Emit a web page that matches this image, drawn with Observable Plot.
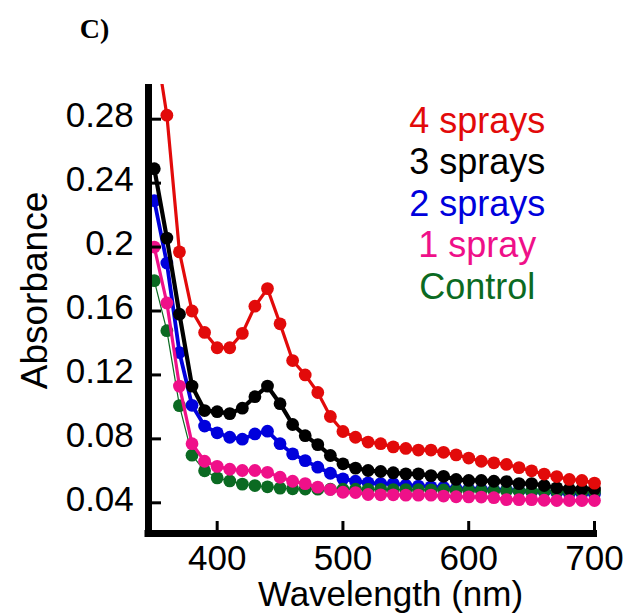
<!DOCTYPE html>
<html>
<head>
<meta charset="utf-8">
<script src="https://cdn.jsdelivr.net/npm/d3@7"></script>
<script src="https://cdn.jsdelivr.net/npm/@observablehq/plot@0.6"></script>
<style>html,body{margin:0;padding:0;background:#fff;}</style>
</head>
<body>
<div id="chart"></div>
<script>
// ---- data ----
const wavelengths = [350,360,370,380,390,400,410,420,430,440,450,460,470,480,490,500,510,520,530,540,550,560,570,580,590,600,610,620,630,640,650,660,670,680,690,700];
const spray4 = [0.333,0.2825,0.197,0.160,0.1466,0.137,0.137,0.146,0.163,0.174,0.152,0.129,0.120,0.109,0.094,0.0846,0.081,0.078,0.077,0.075,0.074,0.073,0.073,0.0716,0.070,0.068,0.066,0.065,0.064,0.062,0.060,0.058,0.0564,0.0546,0.054,0.0523];
const spray3 = [0.249,0.2056,0.158,0.113,0.0977,0.097,0.0958,0.0992,0.1064,0.113,0.102,0.089,0.082,0.0764,0.0696,0.0644,0.0617,0.0602,0.0596,0.0588,0.0581,0.0581,0.057,0.0566,0.0546,0.054,0.054,0.0535,0.0533,0.052,0.052,0.0508,0.0494,0.0487,0.0487,0.0487];
const spray2 = [0.229,0.190,0.134,0.101,0.088,0.0838,0.081,0.0798,0.0831,0.0848,0.077,0.0706,0.0664,0.0623,0.0585,0.055,0.0535,0.0525,0.052,0.052,0.051,0.0505,0.050,0.0497,0.049,0.0487,0.0485,0.048,0.048,0.0475,0.047,0.047,0.0465,0.046,0.046,0.0455];
const spray1 = [0.200,0.165,0.113,0.077,0.066,0.0628,0.061,0.0602,0.0602,0.0591,0.056,0.0535,0.052,0.0498,0.0483,0.0466,0.0464,0.0452,0.045,0.045,0.0448,0.0448,0.0448,0.0442,0.0438,0.0437,0.0436,0.0432,0.042,0.042,0.042,0.0416,0.0414,0.0414,0.0414,0.0414];
const control = [0.179,0.1477,0.1008,0.0698,0.060,0.0556,0.0537,0.0517,0.0508,0.050,0.0492,0.0488,0.0486,0.0485,0.0485,0.0485,0.0485,0.0484,0.0484,0.0483,0.0483,0.0482,0.0481,0.048,0.0479,0.0478,0.0477,0.0476,0.0475,0.0474,0.0473,0.0472,0.047,0.0469,0.0468,0.0467];

const seriesNames = ["4 sprays", "3 sprays", "2 sprays", "1 spray", "Control"];
const seriesValues = [spray4, spray3, spray2, spray1, control];
const seriesColors = ["#e20a0a", "#000000", "#0000dc", "#ef1089", "#0b6a22"];
const seriesLineWidths = [3.2, 4.2, 3.8, 3.2, 1.2];
const drawOrder = [2, 4, 1, 3, 0];

const xTicks = [400, 500, 600, 700];
const yTicks = [0.04, 0.08, 0.12, 0.16, 0.2, 0.24, 0.28];
const xDomain = [345.4, 702.4];
const yDomain = [0.0208, 0.3017];
const panelLabel = "C)";
const xLabel = "Wavelength (nm)";
const yLabel = "Absorbance";

// ---- chart ----
const rowsOf = (vals) => wavelengths.map((w, i) => ({w, a: vals[i]}));

const seriesMarks = drawOrder.flatMap((s) => {
  const rows = rowsOf(seriesValues[s]);
  return [
    Plot.line(rows, {x: "w", y: "a", stroke: seriesColors[s], strokeWidth: seriesLineWidths[s], clip: true}),
    Plot.dot(rows.filter((d) => d.a <= yDomain[1]), {x: "w", y: "a", r: 6.4, fill: seriesColors[s], stroke: null})
  ];
});

const legendMarks = seriesNames.map((name, i) =>
  Plot.text([name], {
    frameAnchor: "top-left", dx: 328.7, dy: 48.3 + i * 41.5,
    text: (d) => d, fill: seriesColors[i], fontSize: 36,
    textAnchor: "middle", lineAnchor: "bottom"
  })
);

const chart = Plot.plot({
  width: 627,
  height: 615,
  marginLeft: 148,
  marginRight: 30,
  marginTop: 84,
  marginBottom: 82,
  x: {domain: xDomain},
  y: {domain: yDomain},
  style: {fontFamily: "'Liberation Sans', Arial, sans-serif", fontSize: "35px", color: "#000", background: "#fff"},
  marks: [
    ...seriesMarks,
    Plot.axisY({ticks: yTicks, tickSize: -13, strokeWidth: 3, tickFormat: () => "", label: null}),
    Plot.axisY({ticks: yTicks, tickSize: 0, tickPadding: 14.7, dy: -3, tickFormat: (d) => String(d), label: null}),
    Plot.axisX({ticks: xTicks, tickSize: -12, tickPadding: 24, strokeWidth: 3, tickFormat: (d) => String(d), label: null}),
    Plot.ruleX([xDomain[0]], {stroke: "#000", strokeWidth: 7, strokeLinecap: "square", insetTop: 3.5}),
    Plot.ruleY([yDomain[0]], {stroke: "#000", strokeWidth: 7, strokeLinecap: "square", insetRight: 3.5}),
    ...legendMarks,
    Plot.text([xLabel], {frameAnchor: "bottom", dx: 17.5, dy: 72.5, text: (d) => d, fontSize: 35, textAnchor: "middle", lineAnchor: "bottom", fill: "#000"}),
    Plot.text([yLabel], {frameAnchor: "left", dx: -102, dy: -18.5, rotate: -90, text: (d) => d, fontSize: 37, textAnchor: "middle", lineAnchor: "bottom", fill: "#000"}),
    Plot.text([panelLabel], {frameAnchor: "top-left", dx: -68.7, dy: -47, text: (d) => d, fontSize: 28, fontWeight: "bold", fontFamily: "'Liberation Serif', 'Times New Roman', serif", textAnchor: "start", lineAnchor: "bottom", fill: "#000"})
  ]
});
document.getElementById("chart").appendChild(chart);
</script>
</body>
</html>
